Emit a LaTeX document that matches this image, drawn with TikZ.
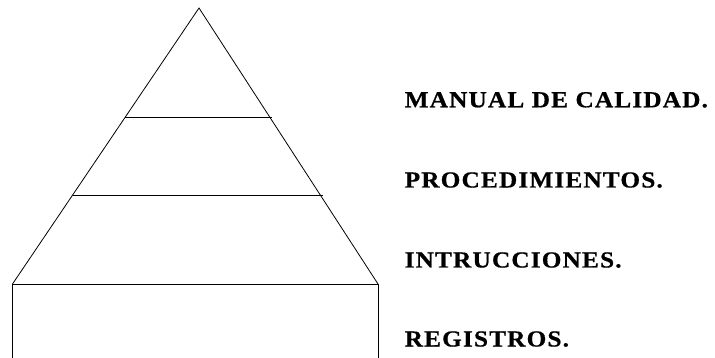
\documentclass[tikz,border=0pt]{standalone}
\usepackage{fontspec}
\newfontfamily\lblfont{Liberation Serif Bold}[LetterSpace=5,FakeStretch=1.1,FakeBold=0.6]
\begin{document}
\begin{tikzpicture}[x=1pt,y=-1pt,
  edge/.style={draw=black,line width=0.8pt,line join=miter},
  label/.style={anchor=base west,inner sep=0pt,font=\lblfont\fontsize{23}{27}\selectfont}]
\useasboundingbox (0,0) rectangle (715,358);
% pyramid outline
\coordinate (apex) at (199,8);
\coordinate (bl) at (12.5,284);
\coordinate (br) at (378,284);
\draw[edge] (bl) -- (apex) -- (br);
% level dividers
\coordinate (l1a) at (125.2,117.5);
\coordinate (l1b) at (271.5,117.5);
\coordinate (l2a) at (72.5,195.3);
\coordinate (l2b) at (322.8,195.3);
\draw[edge] (l1a) -- (l1b);
\draw[edge] (l2a) -- (l2b);
% base block
\coordinate (rl) at (12.5,358);
\coordinate (rr) at (378,358);
\draw[edge] (rl) -- (bl) -- (br) -- (rr);
% labels
\node[label] (t1) at (404.5,107.3) {MANUAL DE CALIDAD.};
\node[label] (t2) at (404.5,187.5) {PROCEDIMIENTOS.};
\node[label] (t3) at (404.5,267.5) {INTRUCCIONES.};
\node[label] (t4) at (404.5,346.5) {REGISTROS.};
\end{tikzpicture}
\end{document}
